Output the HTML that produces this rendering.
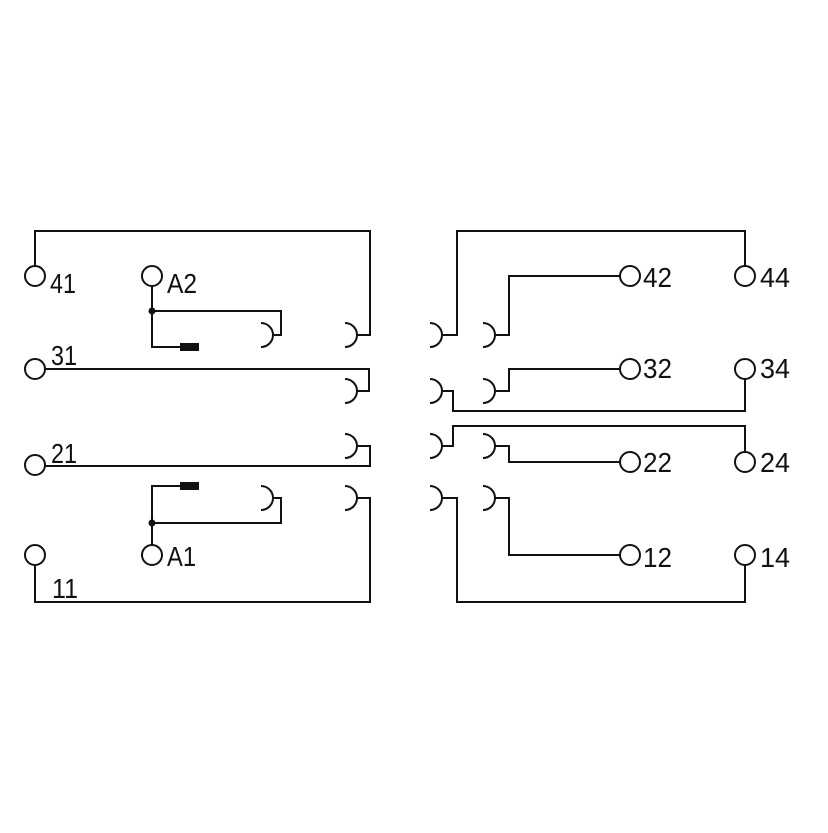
<!DOCTYPE html>
<html><head><style>html,body{margin:0;padding:0;background:#fff}</style></head>
<body>
<svg width="828" height="828" viewBox="0 0 828 828" xmlns="http://www.w3.org/2000/svg">
<g fill="none" stroke="#111" stroke-width="2">
<polyline points="35,266 35,231 370,231 370,335 357,335"/>
<path d="M345,323 A12,12 0 0 1 345,347"/>
<polyline points="152,286 152,347 180,347"/>
<polyline points="152,311 281,311 281,335 273,335"/>
<path d="M261,323 A12,12 0 0 1 261,347"/>
<polyline points="45,369 369,369 369,391 357,391"/>
<path d="M345,379 A12,12 0 0 1 345,403"/>
<polyline points="45,466 370,466 370,446 357,446"/>
<path d="M345,434 A12,12 0 0 1 345,458"/>
<polyline points="152,545 152,486 180,486"/>
<polyline points="152,523 281,523 281,498 273,498"/>
<path d="M261,486 A12,12 0 0 1 261,510"/>
<polyline points="35,565 35,602 370,602 370,498 357,498"/>
<path d="M345,486 A12,12 0 0 1 345,510"/>

<polyline points="745,266 745,231 457,231 457,335 442,335"/>
<path d="M430,323 A12,12 0 0 1 430,347"/>
<polyline points="620,276 509,276 509,335 495,335"/>
<path d="M483,323 A12,12 0 0 1 483,347"/>
<polyline points="620,369 509,369 509,391 495,391"/>
<path d="M483,379 A12,12 0 0 1 483,403"/>
<polyline points="442,391 453,391 453,411 745,411 745,379"/>
<path d="M430,379 A12,12 0 0 1 430,403"/>
<polyline points="442,446 453,446 453,426 745,426 745,452"/>
<path d="M430,434 A12,12 0 0 1 430,458"/>
<polyline points="495,446 509,446 509,462 620,462"/>
<path d="M483,434 A12,12 0 0 1 483,458"/>
<polyline points="442,498 457,498 457,602 745,602 745,565"/>
<path d="M430,486 A12,12 0 0 1 430,510"/>
<polyline points="495,498 509,498 509,555 620,555"/>
<path d="M483,486 A12,12 0 0 1 483,510"/>

<circle cx="35" cy="276" r="10"/>
<circle cx="152" cy="276" r="10"/>
<circle cx="35" cy="369" r="10"/>
<circle cx="35" cy="465" r="10"/>
<circle cx="35" cy="555" r="10"/>
<circle cx="152" cy="555" r="10"/>
<circle cx="630" cy="276" r="10"/>
<circle cx="745" cy="276" r="10"/>
<circle cx="630" cy="369" r="10"/>
<circle cx="745" cy="369" r="10"/>
<circle cx="630" cy="462" r="10"/>
<circle cx="745" cy="462" r="10"/>
<circle cx="630" cy="555" r="10"/>
<circle cx="745" cy="555" r="10"/>
</g>
<g fill="#111">
<circle cx="152" cy="311" r="3.5"/>
<circle cx="152" cy="523" r="3.5"/>
<rect x="180" y="343" width="19" height="8"/>
<rect x="180" y="482" width="19" height="8"/>
</g>
<g fill="#111" font-family="Liberation Sans, sans-serif" font-size="28">
<text x="50" y="293" textLength="26" lengthAdjust="spacingAndGlyphs">41</text>
<text x="167" y="293" textLength="30" lengthAdjust="spacingAndGlyphs">A2</text>
<text x="51" y="365" textLength="26" lengthAdjust="spacingAndGlyphs">31</text>
<text x="51" y="463" textLength="26" lengthAdjust="spacingAndGlyphs">21</text>
<text x="167" y="566" textLength="29" lengthAdjust="spacingAndGlyphs">A1</text>
<text x="52" y="598" textLength="26" lengthAdjust="spacingAndGlyphs">11</text>
<text x="643" y="287" textLength="29" lengthAdjust="spacingAndGlyphs">42</text>
<text x="760" y="287" textLength="30" lengthAdjust="spacingAndGlyphs">44</text>
<text x="643" y="378" textLength="29" lengthAdjust="spacingAndGlyphs">32</text>
<text x="760" y="378" textLength="30" lengthAdjust="spacingAndGlyphs">34</text>
<text x="643" y="472" textLength="29" lengthAdjust="spacingAndGlyphs">22</text>
<text x="760" y="472" textLength="30" lengthAdjust="spacingAndGlyphs">24</text>
<text x="643" y="567" textLength="29" lengthAdjust="spacingAndGlyphs">12</text>
<text x="760" y="567" textLength="30" lengthAdjust="spacingAndGlyphs">14</text>
</g>
</svg>
</body></html>
